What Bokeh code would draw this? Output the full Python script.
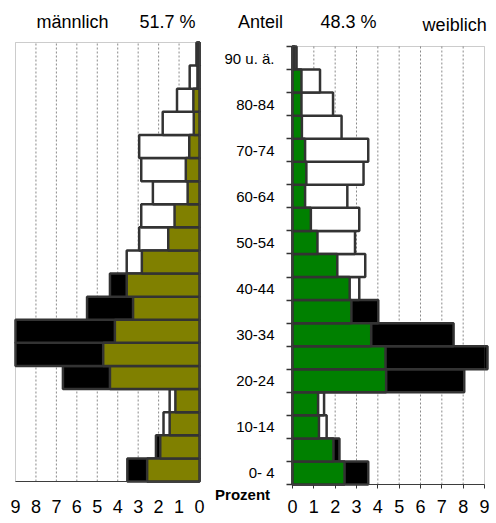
from bokeh.plotting import figure
from bokeh.models import Range1d, FixedTicker, Label, LinearAxis, BoxAnnotation
from bokeh.embed import file_html
from bokeh.resources import INLINE

# ---- data (bottom -> top) ----
ages = ["0- 4", "5-9", "10-14", "15-19", "20-24", "25-29", "30-34", "35-39", "40-44",
        "45-49", "50-54", "55-59", "60-64", "65-69", "70-74", "75-79", "80-84", "85-89", "90 u. ä."]

male_base = [2.56, 1.92, 1.46, 1.18, 4.38, 4.71, 4.14, 3.25, 3.56,
             2.82, 1.53, 1.22, 0.58, 0.67, 0.50, 0.28, 0.30, 0.10, 0.10]
male_total = [3.53, 2.13, 1.76, 1.46, 6.68, 9.00, 9.00, 5.50, 4.38,
              3.56, 2.95, 2.85, 2.28, 2.85, 2.95, 1.80, 1.10, 0.48, 0.15]
male_kind = ["mehr", "mehr", "weniger", "weniger", "mehr", "mehr", "mehr", "mehr", "mehr",
             "weniger", "weniger", "weniger", "weniger", "weniger", "weniger", "weniger",
             "weniger", "weniger", "weniger"]

female_base = [2.44, 1.92, 1.24, 1.20, 4.39, 4.36, 3.69, 2.76, 2.68,
               2.10, 1.17, 0.86, 0.59, 0.65, 0.59, 0.44, 0.42, 0.42, 0.10]
female_total = [3.55, 2.20, 1.60, 1.48, 8.05, 9.14, 7.55, 4.02, 3.13,
                3.41, 2.93, 3.13, 2.57, 3.33, 3.55, 2.30, 1.90, 1.29, 0.19]
female_kind = ["mehr", "mehr", "weniger", "weniger", "mehr", "mehr", "mehr", "mehr", "weniger",
               "weniger", "weniger", "weniger", "weniger", "weniger", "weniger", "weniger",
               "weniger", "weniger", "weniger"]

x_ticks = [0, 1, 2, 3, 4, 5, 6, 7, 8, 9]
label_every = 2
male_title, male_share = "männlich", "51.7 %"
share_title, female_share, female_title = "Anteil", "48.3 %", "weiblich"
unit_label = "Prozent"

# ---- style / layout ----
FONT = "Liberation Sans"
OLIVE = "#808000"
GREEN = "#008000"
EDGE = "#333333"
FRAME = "#555555"
KIND_FILL = {"mehr": "black", "weniger": "white"}
W, H = 496, 522
n = len(ages)
ys = [i + 0.5 for i in range(n)]
xmax = x_ticks[-1]


def span(p0, p1, v0, v1, total):
    """range whose values v0/v1 fall on pixels p0/p1 of a canvas of size total"""
    k = (v1 - v0) / (p1 - p0)
    return v0 - p0 * k, v0 + (total - p0) * k


# pixel frames of the two panels (left panel: 9..0, right panel: 0..9)
mx0, mx1 = span(15, 199, xmax, 0, W)
fx0, fx1 = span(292, 484, 0, xmax, W)
my_top, my_bot = span(42, 481, n, 0, H)
fy_top, fy_bot = span(46, 484, n, 0, H)

p = figure(width=W, height=H, output_backend="svg", toolbar_location=None, title=None,
           x_axis_location=None, y_axis_location=None,
           min_border=0, min_border_left=0, min_border_right=0,
           min_border_top=0, min_border_bottom=0)
p.x_range = Range1d(fx0, fx1)
p.y_range = Range1d(fy_bot, fy_top)
p.extra_x_ranges = {"m": Range1d(mx0, mx1)}
p.extra_y_ranges = {"m": Range1d(my_bot, my_top)}
p.outline_line_color = None
p.grid.visible = False
p.background_fill_color = "white"
p.border_fill_color = "white"

M = dict(x_range_name="m", y_range_name="m")
F = dict()

# frames and dashed grid
for rn in (M, F):
    p.add_layout(BoxAnnotation(left=0, right=xmax, bottom=0, top=n, fill_color=None,
                               line_color=FRAME, line_width=1, **rn))
    p.segment(x0=x_ticks[1:-1], x1=x_ticks[1:-1], y0=0, y1=n, line_color="#8a8a8a",
              line_dash="2 2", line_width=1, **rn)


def draw_bars(base, total, kind, color, rn):
    p.hbar(y=ys, left=0, right=total, height=1,
           fill_color=[KIND_FILL[k] for k in kind], line_color=EDGE, line_width=2.5, **rn)
    p.hbar(y=ys, left=0, right=base, height=1,
           fill_color=color, line_color=EDGE, line_width=2.5, **rn)


draw_bars(male_base, male_total, male_kind, OLIVE, M)
draw_bars(female_base, female_total, female_kind, GREEN, F)


# ---- axes ----
def x_axis(rn, tick_out, standoff):
    ax = LinearAxis(fixed_location=0, ticker=FixedTicker(ticks=x_ticks), bounds=(0, xmax), **rn)
    ax.axis_line_color = EDGE
    ax.major_tick_line_color = EDGE if tick_out else None
    ax.major_tick_out = tick_out
    ax.major_tick_in = 0
    ax.minor_tick_line_color = None
    ax.major_label_standoff = standoff
    ax.major_label_text_font = FONT
    ax.major_label_text_font_size = "18px"
    ax.major_label_text_color = "black"
    p.add_layout(ax, "below")


x_axis(M, 0, 18)
x_axis(F, 4, 11)

centers = [ys[i] for i in range(0, n, label_every)]
ya = LinearAxis(fixed_location=0, bounds=(0, n),
                ticker=FixedTicker(ticks=centers, minor_ticks=list(range(n + 1))))
ya.major_label_overrides = {ys[i]: ages[i] for i in range(0, n, label_every)}
ya.major_tick_line_color = None
ya.major_tick_out = 6
ya.major_tick_in = 0
ya.minor_tick_line_color = EDGE
ya.minor_tick_out = 6
ya.minor_tick_in = 0
ya.minor_tick_line_width = 1.5
ya.axis_line_color = EDGE
ya.major_label_standoff = 12
ya.major_label_text_font = FONT
ya.major_label_text_font_size = "15px"
ya.major_label_text_color = "black"
p.add_layout(ya, "left")


# ---- texts ----
def add_text(txt, x, y, rn, size="18px", style="normal"):
    p.add_layout(Label(x=x, y=y, text=txt, text_align="center", text_baseline="middle",
                       text_font=FONT, text_font_size=size, text_font_style=style,
                       text_color="black", **rn))


add_text(male_title, 6.21, 19.89, M)
add_text(male_share, 1.56, 19.89, M)
add_text(share_title, -1.5, 20.08, F)
add_text(female_share, 2.63, 20.08, F)
add_text(female_title, 7.6, 19.95, F)
add_text(unit_label, -2.34, -0.43, F, size="15px", style="bold")

open("out.html", "w").write(file_html(p, INLINE))
